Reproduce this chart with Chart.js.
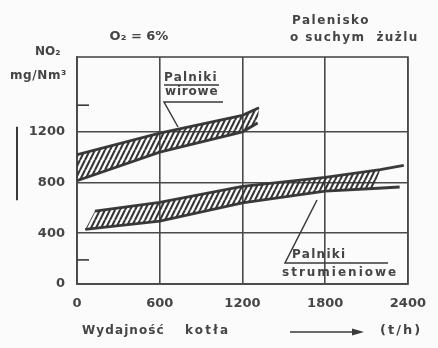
<!DOCTYPE html>
<html>
<head>
<meta charset="utf-8">
<script src="https://cdn.jsdelivr.net/npm/chart.js@4/dist/chart.umd.min.js"></script>
<style>
  html, body { margin: 0; padding: 0; background: #fbfbfb; }
  #wrap { width: 438px; height: 348px; }
</style>
</head>
<body>
<div id="wrap"><canvas id="chart" width="438" height="348"></canvas></div>
<script>
// axis ticks
var xTicks = [0, 600, 1200, 1800, 2400];
var yTicks = [0, 400, 800, 1200];

// Palniki wirowe (upper band)
var swirlTopX = [0, 600, 1200, 1320];
var swirlTopY = [1020, 1190, 1330, 1390];
var swirlBotX = [0, 600, 1200, 1310];
var swirlBotY = [815, 1040, 1200, 1270];

// Palniki strumieniowe (lower band), last point = line end past the hatching
var jetTopX = [130, 600, 1200, 1800, 2200, 2370];
var jetTopY = [575, 643, 770, 840, 902, 935];
var jetBotX = [60, 600, 1200, 1800, 2150, 2340];
var jetBotY = [430, 495, 640, 732, 753, 765];

var ink = '#3a3a3a';
var textCol = '#454545';
var fontName = '"DejaVu Sans", sans-serif';

function pts(xs, ys) {
  var out = [];
  for (var i = 0; i < xs.length; i++) out.push({ x: xs[i], y: ys[i] });
  return out;
}

// closed outline: along bottom edge, back along top edge
function band(botX, botY, topX, topY, n) {
  var b = pts(botX, botY).slice(0, n);
  var t = pts(topX, topY).slice(0, n).reverse();
  var all = b.concat(t);
  all.push(b[0]);
  return all;
}

function hatch() {
  var c = document.createElement('canvas');
  c.width = 5; c.height = 10;
  var g = c.getContext('2d');
  g.strokeStyle = '#333';
  g.lineWidth = 2.1;
  g.beginPath();
  g.moveTo(-5, 10); g.lineTo(0, 0);
  g.moveTo(0, 10); g.lineTo(5, 0);
  g.moveTo(5, 10); g.lineTo(10, 0);
  g.stroke();
  return g.createPattern(c, 'repeat');
}
var pattern = hatch();

function edge(xs, ys) {
  return {
    data: pts(xs, ys), showLine: true, borderColor: ink, borderWidth: 2.8,
    pointRadius: 0, fill: false, tension: 0
  };
}

function area(data) {
  return {
    data: data, showLine: true, borderWidth: 0, borderColor: 'rgba(0,0,0,0)',
    backgroundColor: pattern, pointRadius: 0, fill: 'shape', tension: 0
  };
}

function txt(ctx, s, x, y, size, align, spacing) {
  ctx.font = 'bold ' + size + 'px ' + fontName;
  ctx.textAlign = align || 'left';
  ctx.textBaseline = 'middle';
  ctx.letterSpacing = (spacing || 0) + 'px';
  ctx.fillText(s, x, y);
}

var decor = {
  id: 'decor',
  beforeDatasetsDraw: function(chart) {
    var ctx = chart.ctx, a = chart.chartArea;
    ctx.save();
    ctx.strokeStyle = '#4a4a4a';
    ctx.lineWidth = 1.6;
    ctx.strokeRect(a.left, a.top, a.right - a.left, a.bottom - a.top);
    ctx.restore();
  },
  afterDraw: function(chart) {
    var ctx = chart.ctx, a = chart.chartArea, ys = chart.scales.y;
    ctx.save();
    ctx.fillStyle = textCol;
    ctx.strokeStyle = ink;

    txt(ctx, 'NO\u2082', 35, 52, 12, 'left', 0);
    txt(ctx, 'mg/Nm\u00b3', 10, 76, 12, 'left', 0.6);
    txt(ctx, 'O\u2082 = 6%', 139, 37, 13, 'center', 0);
    txt(ctx, 'Palenisko', 292, 21, 12, 'left', 1.5);
    txt(ctx, 'o suchym  \u017cu\u017clu', 290, 38, 12, 'left', 1.4);

    // Palniki wirowe label
    txt(ctx, 'Palniki', 164, 78, 12, 'left', 1.2);
    txt(ctx, 'wirowe', 165, 92, 12, 'left', 0.8);
    ctx.lineWidth = 1.5;
    ctx.beginPath();
    ctx.moveTo(164, 85); ctx.lineTo(219, 85);
    ctx.moveTo(223, 102); ctx.lineTo(164, 102); ctx.lineTo(178, 127);
    ctx.stroke();

    // Palniki strumieniowe label
    txt(ctx, 'Palniki', 292, 255, 12, 'left', 1.3);
    txt(ctx, 'strumieniowe', 282, 273, 12, 'left', 2);
    ctx.beginPath();
    ctx.moveTo(388, 263); ctx.lineTo(285, 263); ctx.lineTo(317, 200);
    ctx.stroke();

    // small marks on the value axis
    ctx.lineWidth = 1.6;
    [1410, 190].forEach(function(v) {
      var py = ys.getPixelForValue(v);
      ctx.beginPath(); ctx.moveTo(a.left, py); ctx.lineTo(a.left + 12, py); ctx.stroke();
    });
    ctx.lineWidth = 2;
    ctx.beginPath();
    ctx.moveTo(17, ys.getPixelForValue(1240));
    ctx.lineTo(17, ys.getPixelForValue(660));
    ctx.stroke();

    // x axis caption
    txt(ctx, 'Wydajno\u015b\u0107', 82, 331, 12, 'left', 1.1);
    txt(ctx, 'kot\u0142a', 185, 331, 12, 'left', 2.2);
    ctx.lineWidth = 1.5;
    ctx.beginPath(); ctx.moveTo(290, 332); ctx.lineTo(356, 332); ctx.stroke();
    ctx.fillStyle = ink;
    ctx.beginPath(); ctx.moveTo(364, 332); ctx.lineTo(352, 328.5); ctx.lineTo(352, 335.5); ctx.closePath(); ctx.fill();
    ctx.fillStyle = textCol;
    txt(ctx, '(t/h)', 380, 331, 13, 'left', 2);
    ctx.restore();
  }
};

function plain(v) { return String(v); }

new Chart(document.getElementById('chart'), {
  type: 'scatter',
  data: {
    datasets: [
      area(band(swirlBotX, swirlBotY, swirlTopX, swirlTopY, 4)),
      area(band(jetBotX, jetBotY, jetTopX, jetTopY, 5)),
      edge(swirlTopX, swirlTopY),
      edge(swirlBotX, swirlBotY),
      edge(jetTopX, jetTopY),
      edge(jetBotX, jetBotY)
    ]
  },
  options: {
    responsive: false,
    animation: false,
    layout: { padding: { left: 0, right: 16, top: 57, bottom: 0 } },
    plugins: { legend: { display: false }, tooltip: { enabled: false } },
    scales: {
      x: {
        type: 'linear', min: 0, max: 2400,
        afterBuildTicks: function(s) { s.ticks = xTicks.map(function(v) { return { value: v }; }); },
        afterFit: function(s) { s.height = 64; },
        grid: { color: '#4a4a4a', lineWidth: 1.6, drawTicks: false },
        border: { color: '#4a4a4a', width: 1.7 },
        ticks: { color: textCol, padding: 12, maxRotation: 0, callback: plain,
                 font: { family: fontName, size: 13, weight: 'bold' } }
      },
      y: {
        type: 'linear', min: 0, max: 1790,
        afterBuildTicks: function(s) { s.ticks = yTicks.map(function(v) { return { value: v }; }); },
        afterFit: function(s) { s.width = 77; },
        grid: { color: '#4a4a4a', lineWidth: 1.6, drawTicks: false },
        border: { color: '#4a4a4a', width: 1.7 },
        ticks: { color: textCol, padding: 12, callback: plain,
                 font: { family: fontName, size: 13, weight: 'bold' } }
      }
    }
  },
  plugins: [decor]
});
</script>
</body>
</html>
